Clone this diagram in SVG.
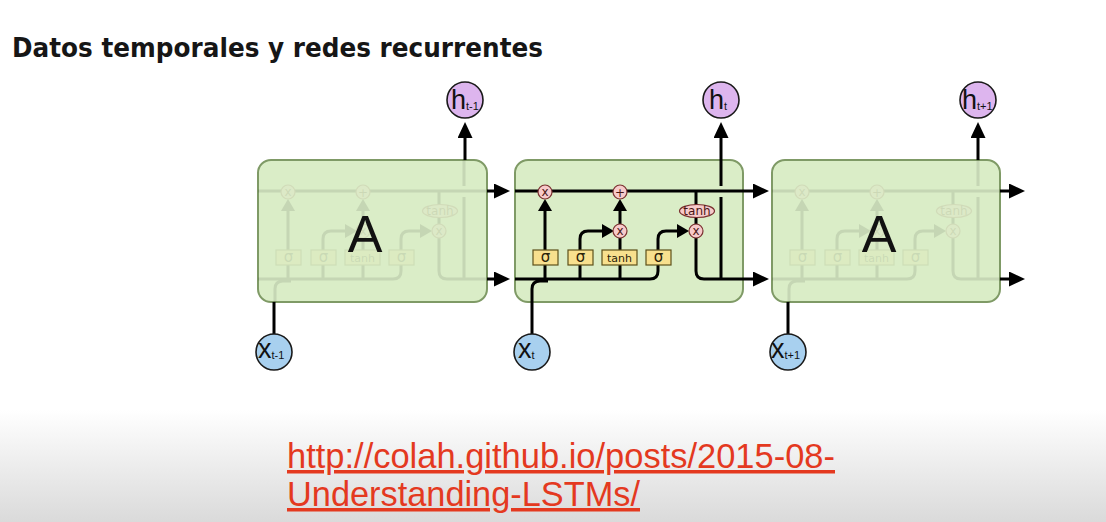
<svg xmlns="http://www.w3.org/2000/svg" xmlns:xlink="http://www.w3.org/1999/xlink" width="1106" height="522" viewBox="0 0 1106 522">
<defs>
<linearGradient id="bg" x1="0" y1="0" x2="0" y2="1">
<stop offset="0" stop-color="#ffffff"/>
<stop offset="1" stop-color="#dadada"/>
</linearGradient>
<marker id="ah" markerUnits="userSpaceOnUse" viewBox="0 0 12 14" markerWidth="12" markerHeight="14" refX="2" refY="7" orient="auto"><path d="M0,0 L12,7 L0,14 z" fill="#000"/></marker>
<marker id="ahL" markerUnits="userSpaceOnUse" viewBox="0 0 16 15" markerWidth="16" markerHeight="15" refX="2" refY="7.5" orient="auto"><path d="M0,0 L16,7.5 L0,15 z" fill="#000"/></marker>
<style>
.box{fill:#daedc7;stroke:#7f9a66;stroke-width:2}
.ln{fill:none;stroke:#000;stroke-width:3}
.arr{marker-end:url(#ah)}
.arrL{fill:none;stroke:#000;stroke-width:3;marker-end:url(#ahL)}
.gate{fill:#f7caca;stroke:#7a3030;stroke-width:1.2}
.lay{fill:#f8e08e;stroke:#5e501a;stroke-width:1.2}
.gt{font-family:"DejaVu Sans",sans-serif;font-size:12px;fill:#4a1414;text-anchor:middle}
.lt{font-family:"DejaVu Sans",sans-serif;fill:#2a2208;text-anchor:middle}
.big{font-family:"Liberation Sans",Arial,sans-serif;font-size:52px;fill:#111;text-anchor:middle}
.hc{fill:#ddb5ee;stroke:#1a1a1a;stroke-width:1.6}
.xc{fill:#a8d0ef;stroke:#1a1a1a;stroke-width:1.6}
.nt{font-family:"Liberation Sans",Arial,sans-serif;fill:#111}
.url{font-family:"Liberation Sans",Arial,sans-serif;font-size:35px;fill:#e4391f;text-decoration:underline}
</style>
<g id="internals">
<path class="ln" d="M515,191 H743"/>
<path class="ln" d="M515,279 H650 Q658,279 658,271 V265"/>
<path class="ln" d="M545,279 V265 M580,279 V265 M620,279 V265"/>
<path class="ln" d="M532,302 V289 Q532,281 540,281 H548"/>
<path class="ln" d="M696,191 V271 Q696,279 704,279 H743"/>
<path class="ln" d="M721,279 V197 M721,186 V160"/>
<path class="ln arr" d="M545,250 V209"/>
<path class="ln arr" d="M580,250 V239 Q580,231 588,231 H604"/>
<path class="ln" d="M620,250 V238"/>
<path class="ln arr" d="M620,224 V209"/>
<path class="ln arr" d="M658,250 V239 Q658,231 666,231 H679"/>
<circle class="gate" cx="545" cy="192" r="7"/>
<text class="gt" x="545" y="196">x</text>
<circle class="gate" cx="620" cy="192" r="7"/>
<text class="gt" x="620" y="196.5" font-size="13">+</text>
<circle class="gate" cx="620" cy="231" r="7"/>
<text class="gt" x="620" y="235">x</text>
<ellipse class="gate" cx="697" cy="211" rx="17.5" ry="6.5"/>
<text class="gt" x="697" y="215" font-size="11">tanh</text>
<circle class="gate" cx="696" cy="231" r="7"/>
<text class="gt" x="696" y="235">x</text>
<rect class="lay" x="533" y="250" width="25" height="15"/>
<text class="lt" x="545.5" y="262" font-size="15">σ</text>
<rect class="lay" x="568" y="250" width="25" height="15"/>
<text class="lt" x="580.5" y="262" font-size="15">σ</text>
<rect class="lay" x="602" y="250" width="35" height="15"/>
<text class="lt" x="619.5" y="261.5" font-size="11">tanh</text>
<rect class="lay" x="646" y="250" width="25" height="15"/>
<text class="lt" x="658.5" y="262" font-size="15">σ</text>
</g>
</defs>
<rect x="0" y="0" width="1106" height="522" fill="#ffffff"/>
<rect x="0" y="410" width="1106" height="112" fill="url(#bg)"/>
<g id="title">
<text x="12" y="57" font-family="DejaVu Sans, sans-serif" font-weight="bold" font-size="27" fill="#161616" textLength="531" lengthAdjust="spacingAndGlyphs">Datos temporales y redes recurrentes</text>
</g>
<g id="cell-prev">
<rect class="box" x="258" y="160" width="229" height="142" rx="13"/>
<use xlink:href="#internals" href="#internals" transform="translate(-257,0)" opacity="0.09"/>
<text class="big" x="365" y="252">A</text>
</g>
<g id="cell-t">
<rect class="box" x="515" y="160" width="228" height="142" rx="13"/>
<use xlink:href="#internals" href="#internals"/>
</g>
<g id="cell-next">
<rect class="box" x="772" y="160" width="228" height="142" rx="13"/>
<use xlink:href="#internals" href="#internals" transform="translate(257,0)" opacity="0.09"/>
<text class="big" x="879" y="252">A</text>
</g>
<g id="connectors">
<path class="arrL" d="M487,191 H496"/>
<path class="arrL" d="M487,279 H496"/>
<path class="arrL" d="M743,191 H755"/>
<path class="arrL" d="M743,279 H755"/>
<path class="arrL" d="M1000,191 H1011"/>
<path class="arrL" d="M1000,279 H1011"/>
<path class="arrL" d="M465,160 V136"/>
<path class="arrL" d="M721,160 V136"/>
<path class="arrL" d="M978,160 V136"/>
<path class="ln" d="M274,334 V302"/>
<path class="ln" d="M532,334 V302"/>
<path class="ln" d="M788,334 V302"/>
</g>
<g id="h-prev">
<circle class="hc" cx="465" cy="100" r="18"/>
<text class="nt" x="451" y="109" font-size="27">h<tspan font-size="11" dy="1">t-1</tspan></text>
</g>
<g id="h-t">
<circle class="hc" cx="721" cy="100" r="18"/>
<text class="nt" x="709" y="109" font-size="27">h<tspan font-size="11" dy="1">t</tspan></text>
</g>
<g id="h-next">
<circle class="hc" cx="978" cy="100" r="18"/>
<text class="nt" x="962" y="109" font-size="27">h<tspan font-size="11" dy="1">t+1</tspan></text>
</g>
<g id="x-prev">
<circle class="xc" cx="274" cy="352" r="18"/>
<text class="nt" x="258" y="358" font-size="27">x<tspan font-size="11" dy="1">t-1</tspan></text>
</g>
<g id="x-t">
<circle class="xc" cx="532" cy="352" r="18"/>
<text class="nt" x="518" y="358" font-size="27">x<tspan font-size="11" dy="1">t</tspan></text>
</g>
<g id="x-next">
<circle class="xc" cx="788" cy="352" r="18"/>
<text class="nt" x="771" y="358" font-size="27">x<tspan font-size="11" dy="1">t+1</tspan></text>
</g>
<g id="url">
<text class="url" x="287" y="468" textLength="548" lengthAdjust="spacingAndGlyphs">http://colah.github.io/posts/2015-08-</text>
<text class="url" x="287" y="506" textLength="353" lengthAdjust="spacingAndGlyphs">Understanding-LSTMs/</text>
</g>
</svg>
